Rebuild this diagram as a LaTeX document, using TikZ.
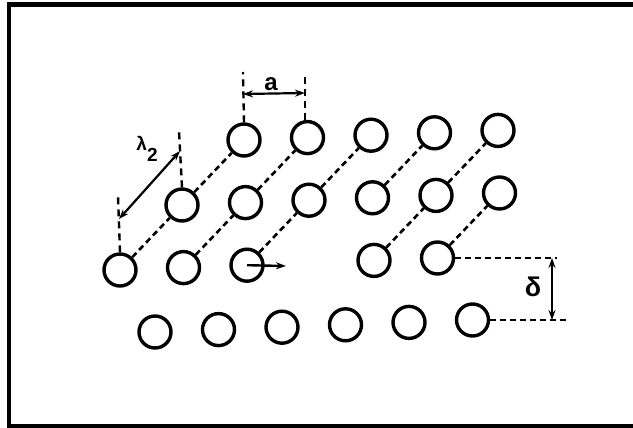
\documentclass[tikz,border=0pt]{standalone}
\usepackage{fontspec}
\setmainfont{Liberation Sans}
\usetikzlibrary{arrows.meta,calc}
\begin{document}
\begin{tikzpicture}[x=1pt,y=-1pt,
  disc/.style={circle,draw,line width=3.4pt,minimum size=32pt,inner sep=0pt},
  dashln/.style={line width=2.6pt,dash pattern=on 6pt off 4pt},
  tickln/.style={line width=2.4pt,dash pattern=on 7pt off 5pt},
  dimarrow/.style={line width=2.2pt,{Stealth[length=10pt,width=7pt]}-{Stealth[length=10pt,width=7pt]}},
  onearrow/.style={line width=2.4pt,-{Stealth[length=10pt,width=7pt]}},
  framestyle/.style={line width=4.5pt},
  lbl/.style={inner sep=0pt,font=\bfseries}]
\useasboundingbox (0,0) rectangle (633,428);
\clip (0,0) rectangle (633,428);
% frame
\coordinate (f1) at (650,4.5);
\coordinate (f2) at (9,4.5);
\coordinate (f3) at (9,426.5);
\coordinate (f4) at (650,426.5);
\draw[framestyle] (f1) -- (f2) -- (f3) -- (f4);
% row 1
\node[disc] (c00) at (244,140.0) {};
\node[disc] (c01) at (307.5,137.6) {};
\node[disc] (c02) at (371,135.2) {};
\node[disc] (c03) at (434.5,132.8) {};
\node[disc] (c04) at (498,130.4) {};
% row 2
\node[disc] (c10) at (182,205) {};
\node[disc] (c11) at (245.5,202.6) {};
\node[disc] (c12) at (309,200.2) {};
\node[disc] (c13) at (372.5,197.8) {};
\node[disc] (c14) at (436,195.4) {};
\node[disc] (c15) at (499.5,193) {};
% row 3
\node[disc] (c20) at (120,270) {};
\node[disc] (c21) at (183.5,267.6) {};
\node[disc] (c22) at (247,265.2) {};
\node[disc] (c24) at (374,260.4) {};
\node[disc] (c25) at (437.5,258) {};
% row 4
\node[disc] (c30) at (155,332) {};
\node[disc] (c31) at (218.5,329.6) {};
\node[disc] (c32) at (282,327.2) {};
\node[disc] (c33) at (345.5,324.8) {};
\node[disc] (c34) at (409,322.4) {};
\node[disc] (c35) at (472.5,320) {};
% diagonal chains
\draw[dashln] (c20) -- (c10) -- (c00);
\draw[dashln] (c21) -- (c11) -- (c01);
\draw[dashln] (c22) -- (c12) -- (c02);
\draw[dashln] (c13) -- (c03);
\draw[dashln] (c24) -- (c14) -- (c04);
\draw[dashln] (c25) -- (c15);
% displacement arrow
\coordinate (vend) at (286,266);
\draw[onearrow] (c22.center) -- (vend);
% dimension a
\coordinate (aL) at (243,72);
\coordinate (aR) at (305,72);
\coordinate (aLm) at (243,94);
\coordinate (aRm) at (305,93);
\draw[tickln] (c00.north) -- (aL);
\draw[tickln] (c01.north -| aR) -- (aR);
\draw[dimarrow] (aLm) -- (aRm);
\node[lbl,font=\bfseries\fontsize{24}{24}\selectfont] (alab) at (271,84) {a};
% dimension lambda_2
\coordinate (lA) at (118,196);
\coordinate (lB) at (179,131);
\coordinate (lAm) at (119,219);
\coordinate (lBm) at (180,151);
\draw[tickln] (c20.north) -- (lA);
\draw[tickln] (c10.north) -- (lB);
\draw[dimarrow] (lAm) -- (lBm);
\node[lbl,font=\bfseries\fontsize{19}{19}\selectfont] (llab) at (147,149) {λ\raisebox{-0.6em}{2}};
% dimension delta
\coordinate (dT) at (557,258);
\coordinate (dB) at (567,320);
\coordinate (dTm) at (552,258);
\coordinate (dBm) at (552,320);
\draw[dashln] (c25.east) -- (dT);
\draw[dashln] (c35.east) -- (dB);
\draw[dimarrow] (dTm) -- (dBm);
\node[lbl,font=\bfseries\fontsize{27}{27}\selectfont] (dlab) at (533,287) {δ};
\end{tikzpicture}
\end{document}
